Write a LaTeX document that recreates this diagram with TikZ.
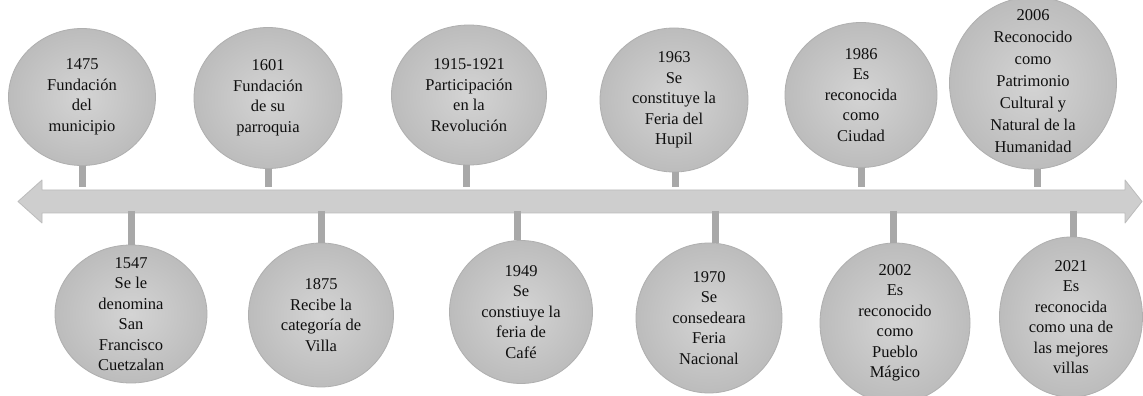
\documentclass[tikz,border=0pt]{standalone}
\usepackage{fontspec}
\setmainfont{Liberation Serif}
\usetikzlibrary{shapes.geometric}

\begin{document}
\begin{tikzpicture}[x=1pt,y=1pt,
  bubble/.style={ellipse,draw=drawColor,line width=0.8pt,shading=radial,
    inner color=innerColor,outer color=outerColor,inner sep=0pt},
  bubbletext/.style={align=center,inner sep=0pt,outer sep=0pt,text=textColor,
    font=\fontsize{16.5}{20.5}\selectfont},
  stem/.style={draw=stemColor,line width=7pt}]
\definecolor{fillColor}{RGB}{255,255,255}
\definecolor{drawColor}{RGB}{175,175,175}
\definecolor{innerColor}{RGB}{212,212,212}
\definecolor{outerColor}{RGB}{188,188,188}
\definecolor{textColor}{RGB}{15,15,15}
\definecolor{stemColor}{RGB}{168,168,168}
\definecolor{bandFill}{RGB}{206,206,206}
\definecolor{bandDraw}{RGB}{188,188,188}
\path[use as bounding box,fill=fillColor] (0,0) rectangle (1143,396);

% timeline band
\path[draw=bandDraw,fill=bandFill,line width=0.8pt,line join=round] (18,194.5) --
	(42,216) -- (42,206) -- (1125,206) -- (1125,216) -- (1142,194.5) --
	(1125,173) -- (1125,183) -- (42,183) -- (42,173) -- cycle;

% events above
\node[bubble,minimum width=147,minimum height=137] (e1475) at ( 82,299) {};
\node[bubble,minimum width=148,minimum height=141] (e1601) at (268,298) {};
\node[bubble,minimum width=155,minimum height=140] (e1915) at (469,301) {};
\node[bubble,minimum width=148,minimum height=144] (e1963) at (674,296) {};
\node[bubble,minimum width=152,minimum height=145] (e1986) at (861,301) {};
\node[bubble,minimum width=167,minimum height=172] (e2006) at (1033,313) {};

\node[bubbletext] at (e1475) {1475\\Fundación\\del\\municipio};
\node[bubbletext] at (e1601) {1601\\Fundación\\de su\\parroquia};
\node[bubbletext] at (e1915) {1915-1921\\Participación\\en la\\Revolución};
\node[bubbletext] at (e1963) {1963\\Se\\constituye la\\Feria del\\Hupil};
\node[bubbletext] at (e1986) {1986\\Es\\reconocida\\como\\Ciudad};
\node[bubbletext,font=\fontsize{16.5}{22}\selectfont] at ([yshift=2]e2006) {2006\\Reconocido\\como\\Patrimonio\\Cultural y\\Natural de la\\Humanidad};

\coordinate (t1475) at ( 82,209);
\coordinate (t1601) at (268,209);
\coordinate (t1915) at (466,209);
\coordinate (t1963) at (675,209);
\coordinate (t1986) at (861,209);
\coordinate (t2006) at (1037,209);

\draw[stem] (e1475.south) -- (t1475);
\draw[stem] (e1601.south) -- (t1601);
\draw[stem] (e1915.south -| t1915) -- (t1915);
\draw[stem] (e1963.south -| t1963) -- (t1963);
\draw[stem] (e1986.south) -- (t1986);
\draw[stem] (e2006.south -| t2006) -- (t2006);

% events below
\node[bubble,minimum width=152,minimum height=138] (e1547) at (131, 82) {};
\node[bubble,minimum width=145,minimum height=144] (e1875) at (321, 81) {};
\node[bubble,minimum width=143,minimum height=143] (e1949) at (521, 84) {};
\node[bubble,minimum width=146,minimum height=150] (e1970) at (709, 78) {};
\node[bubble,minimum width=150,minimum height=160] (e2002) at (895, 73) {};
\node[bubble,minimum width=143,minimum height=160] (e2021) at (1071, 79) {};

\node[bubbletext] at (e1547) {1547\\Se le\\denomina\\San\\Francisco\\Cuetzalan};
\node[bubbletext] at (e1875) {1875\\Recibe la\\categoría de\\Villa};
\node[bubbletext] at (e1949) {1949\\Se\\constiuye la\\feria de\\Café};
\node[bubbletext] at (e1970) {1970\\Se\\consedeara\\Feria\\Nacional};
\node[bubbletext] at (e2002) {2002\\Es\\reconocido\\como\\Pueblo\\Mágico};
\node[bubbletext] at (e2021) {2021\\Es\\reconocida\\como una de\\las mejores\\villas};

\coordinate (b1547) at (131,185);
\coordinate (b1875) at (321,185);
\coordinate (b1949) at (517,185);
\coordinate (b1970) at (715,185);
\coordinate (b2002) at (893,185);
\coordinate (b2021) at (1073,185);

\draw[stem] (b1547) -- (e1547.north);
\draw[stem] (b1875) -- (e1875.north);
\draw[stem] (b1949) -- (e1949.north -| b1949);
\draw[stem] (b1970) -- (e1970.north -| b1970);
\draw[stem] (b2002) -- (e2002.north -| b2002);
\draw[stem] (b2021) -- (e2021.north -| b2021);
\end{tikzpicture}
\end{document}
